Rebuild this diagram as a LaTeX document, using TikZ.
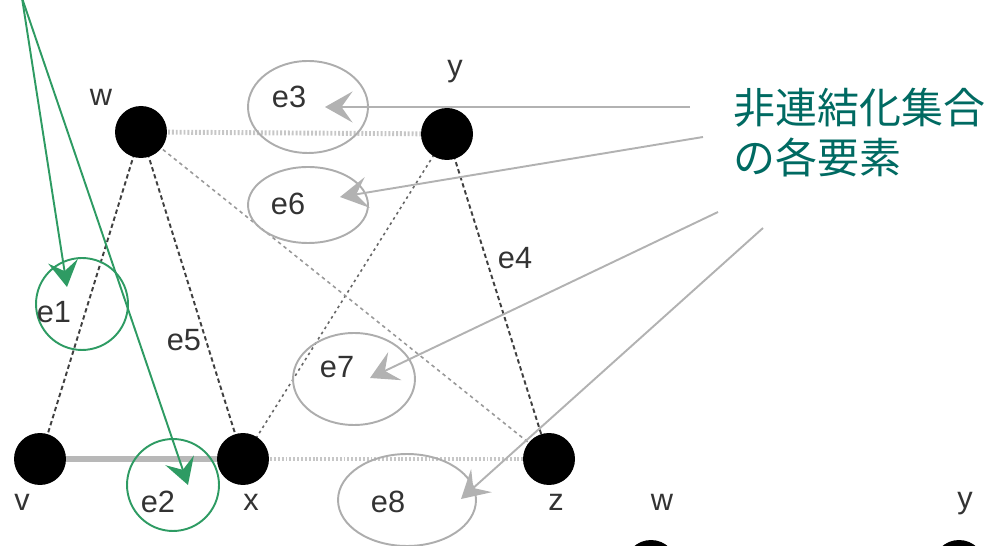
\documentclass[tikz,border=0pt]{standalone}
\usepackage{fontspec}
\setmainfont{Liberation Sans}
\newfontfamily\cjk{Noto Sans CJK JP}
\usetikzlibrary{arrows.meta,shapes.geometric}
\definecolor{grn}{HTML}{2E9B63}
\definecolor{tealtext}{HTML}{006A62}
\begin{document}
\begin{tikzpicture}[x=0.02cm,y=-0.02cm,
  vert/.style={circle,fill=black,minimum size=1.04cm,inner sep=0},
  lab/.style={font=\fontsize{17.5}{20}\selectfont,text=black!80,inner sep=0},
  ell/.style={ellipse,draw=black!32,line width=1.1pt,inner sep=0},
  gcirc/.style={circle,draw=grn,line width=1.1pt,minimum size=1.84cm,inner sep=0},
  garrow/.style={draw=grn,line width=1.1pt,-{Stealth[length=0.52cm,width=0.6cm,inset=0.2cm]}},
  parrow/.style={draw=black!30,line width=1.1pt,-{Stealth[length=0.55cm,width=0.62cm,inset=0.22cm]}},
  lightdot/.style={draw=black!22,line width=2.8pt,dash pattern=on 1.1pt off 1.1pt},
  solidgray/.style={draw=black!28,line width=3.4pt},
  darkdash/.style={draw=black!75,line width=1.1pt,dash pattern=on 2.5pt off 1.7pt},
  middot/.style={draw=black!60,line width=0.9pt,dash pattern=on 1.5pt off 2pt},
  faintdot/.style={draw=black!40,line width=0.9pt,dash pattern=on 2pt off 2pt}]
\useasboundingbox (0,0) rectangle (1003,546);

% vertex positions
\coordinate (pw) at (141,132);
\coordinate (py) at (447,134);
\coordinate (pv) at (40,459);
\coordinate (px) at (243,459);
\coordinate (pz) at (549,459);

% edges
\draw[lightdot] (pw) -- (py);
\draw[lightdot] (px) -- (pz);
\draw[solidgray] (pv) -- (px);
\draw[darkdash] (pw) -- (pv);
\draw[darkdash] (pw) -- (px);
\draw[darkdash] (py) -- (pz);
\draw[middot] (py) -- (px);
\draw[faintdot] (pw) -- (pz);

% vertices
\node[vert] (w) at (pw) {};
\node[vert] (y) at (py) {};
\node[vert] (v) at (pv) {};
\node[vert] (x) at (px) {};
\node[vert] (z) at (pz) {};
\node[vert] (w2) at (651,566) {};
\node[vert] (y2) at (959,566) {};

% vertex labels
\node[lab] (lw) at (101,97) {w};
\node[lab] (ly) at (455,72) {y};
\node[lab] (lv) at (22,502) {v};
\node[lab] (lx) at (251,502) {x};
\node[lab] (lz) at (556,502) {z};
\node[lab] (lw2) at (662,502) {w};
\node[lab] (ly2) at (965,504) {y};

% ellipses
\node[ell,minimum width=2.4cm,minimum height=1.84cm] (E3) at (308,107) {};
\node[ell,minimum width=2.4cm,minimum height=1.52cm] (E6) at (308,205) {};
\node[ell,minimum width=2.44cm,minimum height=1.84cm] (E7) at (354,379) {};
\node[ell,minimum width=2.76cm,minimum height=1.84cm] (E8) at (407,500) {};
\node[gcirc] (C1) at (82,304) {};
\node[gcirc] (C2) at (173,485) {};

% edge labels
\node[lab] (le1) at (54,312) {e1};
\node[lab] (le2) at (158,502) {e2};
\node[lab] (le3) at (289,97) {e3};
\node[lab] (le4) at (515,258) {e4};
\node[lab] (le5) at (184,340) {e5};
\node[lab] (le6) at (288,204) {e6};
\node[lab] (le7) at (337,367) {e7};
\node[lab] (le8) at (388,502) {e8};

% Japanese caption
\node[font=\cjk\fontsize{23.9}{28.45}\selectfont,text=tealtext,align=left,anchor=west,inner sep=0] (cap) at (733,133) {非連結化集合\\の各要素};

% gray arrows
\coordinate (s3) at (690,107);
\coordinate (t3) at (325,107);
\coordinate (s6) at (703,137);
\coordinate (t6) at (340,197);
\coordinate (s7) at (718,212);
\coordinate (t7) at (370,378);
\coordinate (s8) at (763,228);
\coordinate (t8) at (461,499);
\draw[parrow] (s3) -- (t3);
\draw[parrow] (s6) -- (t6);
\draw[parrow] (s7) -- (t7);
\draw[parrow] (s8) -- (t8);

% green arrows
\coordinate (g0) at (22,-2);
\coordinate (g1) at (67,287);
\coordinate (g2) at (188,485);
\draw[garrow] (g0) -- (g1);
\draw[garrow] (g0) -- (g2);
\end{tikzpicture}
\end{document}
